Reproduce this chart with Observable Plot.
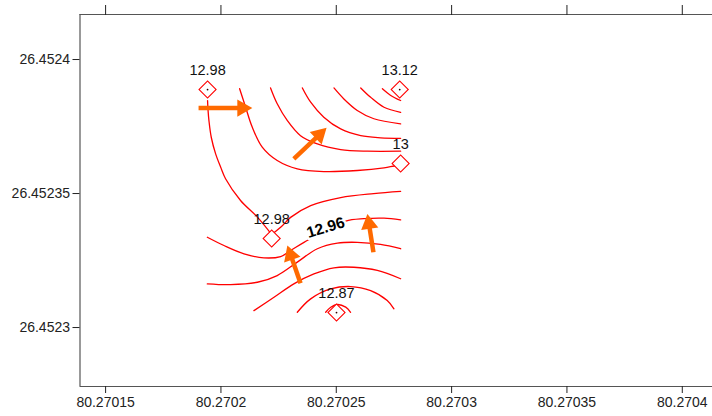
<!DOCTYPE html>
<html><head><meta charset="utf-8">
<script src="https://cdn.jsdelivr.net/npm/d3@7"></script>
<script src="https://cdn.jsdelivr.net/npm/@observablehq/plot@0.6"></script>
<style>html,body{margin:0;padding:0;background:#fff;overflow:hidden}</style>
</head><body><div id="chart"></div>
<script>
// axis ticks
const xTicks = [80.27015, 80.2702, 80.27025, 80.2703, 80.27035, 80.2704];
const yTicks = [26.4523, 26.45235, 26.4524];
const xDomain = [80.2701389, 80.2704131];
const yDomain = [26.452278, 26.4524168];

// sample points (lon, lat, value)
const ptLon = [80.2701942, 80.2702775, 80.2702779, 80.2702220, 80.2702501];
const ptLat = [26.4523888, 26.4523888, 26.4523612, 26.4523332, 26.4523056];
const ptVal = ["12.98", "13.12", "13", "12.98", "12.87"];
const ptDot = [true, true, false, false, true];

// contour lines [lon, lat]
const c1298a = [[80.2701942,26.4523847],[80.2701944,26.4523812],[80.2701948,26.4523772],[80.2701958,26.4523710],[80.2701977,26.4523648],[80.2701999,26.4523598],[80.2702020,26.4523555],[80.2702085,26.4523474],[80.2702158,26.4523412],[80.2702220,26.4523347]];
const c1298b = [[80.2702220,26.4523347],[80.2702267,26.4523381],[80.2702302,26.4523411],[80.2702389,26.4523455],[80.2702519,26.4523485],[80.2702662,26.4523500],[80.2702779,26.4523508]];
const c13 = [[80.2702081,26.4523891],[80.2702107,26.4523822],[80.2702136,26.4523747],[80.2702179,26.4523673],[80.2702244,26.4523623],[80.2702331,26.4523592],[80.2702446,26.4523582],[80.2702591,26.4523586],[80.2702707,26.4523596],[80.2702770,26.4523606]];
const cU3 = [[80.2702215,26.4523894],[80.2702244,26.4523835],[80.2702288,26.4523772],[80.2702345,26.4523716],[80.2702418,26.4523685],[80.2702519,26.4523664],[80.2702635,26.4523658],[80.2702779,26.4523658]];
const cU4 = [[80.2702353,26.4523894],[80.2702389,26.4523841],[80.2702446,26.4523785],[80.2702519,26.4523741],[80.2702606,26.4523716],[80.2702692,26.4523708],[80.2702779,26.4523706]];
const cU5 = [[80.2702490,26.4523894],[80.2702533,26.4523853],[80.2702591,26.4523810],[80.2702663,26.4523779],[80.2702779,26.4523760]];
const cU6 = [[80.2702606,26.4523894],[80.2702649,26.4523859],[80.2702707,26.4523822],[80.2702779,26.4523803]];
const cU7 = [[80.2702700,26.4523891],[80.2702736,26.4523866],[80.2702779,26.4523847]];
const c1296 = [[80.2701941,26.4523337],[80.2702013,26.4523306],[80.2702100,26.4523275],[80.2702186,26.4523260],[80.2702259,26.4523265],[80.2702302,26.4523287],[80.2702360,26.4523318],[80.2702450,26.4523358],[80.2702541,26.4523397],[80.2702620,26.4523406],[80.2702707,26.4523408],[80.2702779,26.4523402]];
const cL2 = [[80.2701941,26.4523163],[80.2702042,26.4523160],[80.2702158,26.4523169],[80.2702244,26.4523194],[80.2702331,26.4523244],[80.2702418,26.4523294],[80.2702505,26.4523315],[80.2702591,26.4523318],[80.2702692,26.4523310],[80.2702779,26.4523294]];
const cL3 = [[80.2702143,26.4523063],[80.2702230,26.4523113],[80.2702316,26.4523163],[80.2702403,26.4523200],[80.2702490,26.4523223],[80.2702576,26.4523225],[80.2702678,26.4523213],[80.2702779,26.4523182]];
const cL4 = [[80.2702331,26.4523057],[80.2702389,26.4523107],[80.2702476,26.4523144],[80.2702562,26.4523153],[80.2702649,26.4523138],[80.2702721,26.4523101],[80.2702750,26.4523070]];
const cL5 = [[80.2702454,26.4523057],[80.2702476,26.4523076],[80.2702505,26.4523086],[80.2702541,26.4523076],[80.2702562,26.4523057]];

// contour label
const cLabel = ["12.96"];
const cLabelLon = [80.2702454];
const cLabelLat = [26.4523373];

// flow arrows: tail lon/lat, tip lon/lat
const arTailLon = [80.2701903, 80.2702316, 80.2702345, 80.2702661];
const arTailLat = [26.4523819, 26.4523629, 26.4523165, 26.4523281];
const arTipLon  = [80.2702136, 80.2702458, 80.2702288, 80.2702635];
const arTipLat  = [26.4523819, 26.4523745, 26.4523306, 26.4523424];

const W = 712, H = 416, mL = 79.5, mR = 0, mT = 14, mB = 30;
const RED = "#ff0000", ORANGE = "#ff6a00";

const contours = {c1298a, c1298b, c13, cU3, cU4, cU5, cU6, cU7, c1296, cL2, cL3, cL4, cL5};
const lineData = Object.entries(contours).flatMap(([id, pts]) => pts.map(p => ({id, lon: p[0], lat: p[1]})));
const points = ptVal.map((v, i) => ({lon: ptLon[i], lat: ptLat[i], v, dot: ptDot[i]}));

// scales matching the plot, used to shape arrowheads in screen space
const sx = d3.scaleLinear(xDomain, [mL, W - mR]);
const sy = d3.scaleLinear(yDomain, [H - mB, mT]);
const HL = 15;
const arrows = arTailLon.map((_, i) => {
  const tx = sx(arTailLon[i]), ty = sy(arTailLat[i]);
  const hx = sx(arTipLon[i]), hy = sy(arTipLat[i]);
  const len = Math.hypot(hx - tx, hy - ty), ux = (hx - tx) / len, uy = (hy - ty) / len;
  return {
    x1: arTailLon[i], y1: arTailLat[i],
    x2: sx.invert(hx - ux * HL * 0.8), y2: sy.invert(hy - uy * HL * 0.8),
    cx: sx.invert(hx - ux * HL * 2 / 3), cy: sy.invert(hy - uy * HL * 2 / 3),
    rot: Math.atan2(ux, -uy) * 180 / Math.PI
  };
});
const triR = Math.sqrt((HL / 3) ** 2 * 3 * Math.sqrt(3) / Math.PI);

const plot = Plot.plot({
  width: W, height: H,
  marginLeft: mL, marginRight: mR, marginTop: mT, marginBottom: mB,
  style: {fontFamily: "'Liberation Sans', Arial, sans-serif", fontSize: "14px", background: "#fff", color: "#222"},
  x: {domain: xDomain, axis: null},
  y: {domain: yDomain, axis: null},
  marks: [
    Plot.ruleY([yDomain[1]], {stroke: "#555", strokeWidth: 1.2}),
    Plot.ruleY([yDomain[0]], {stroke: "#555", strokeWidth: 1.2}),
    Plot.ruleX([xDomain[0]], {stroke: "#555", strokeWidth: 1.2}),
    Plot.axisX({anchor: "bottom", ticks: xTicks, tickSize: 7, tickPadding: 4, tickFormat: d => String(d), label: null, fontSize: 14, stroke: "#222"}),
    Plot.axisX({anchor: "top", ticks: xTicks, tickSize: 10, tickFormat: () => "", label: null, stroke: "#222"}),
    Plot.axisY({anchor: "left", ticks: yTicks, tickSize: 7, tickPadding: 3, tickFormat: d => String(d), label: null, fontSize: 14, stroke: "#222"}),
    Plot.line(lineData, {x: "lon", y: "lat", z: "id", stroke: RED, strokeWidth: 1.3, curve: "catmull-rom"}),
    Plot.text(cLabel, {x: (d, i) => cLabelLon[i], y: (d, i) => cLabelLat[i], text: d => d, rotate: -17, fontWeight: "bold", fontSize: 15.5, fill: "#000", stroke: "white", strokeWidth: 5}),
    Plot.dot(points, {x: "lon", y: "lat", symbol: "square", r: 6.8, rotate: 45, stroke: RED, strokeWidth: 1.1, fill: "white"}),
    Plot.dot(points.filter(d => d.dot), {x: "lon", y: "lat", r: 0.9, fill: "#300", stroke: null}),
    Plot.text(points, {x: "lon", y: "lat", text: "v", dy: -19, fontSize: 14.5, fill: "#111"}),
    Plot.link(arrows, {x1: "x1", y1: "y1", x2: "x2", y2: "y2", stroke: ORANGE, strokeWidth: 4.5, strokeLinecap: "butt"}),
    Plot.dot(arrows, {x: "cx", y: "cy", symbol: "triangle", r: triR, rotate: "rot", fill: ORANGE, stroke: null})
  ]
});
document.getElementById("chart").appendChild(plot);
</script></body></html>
